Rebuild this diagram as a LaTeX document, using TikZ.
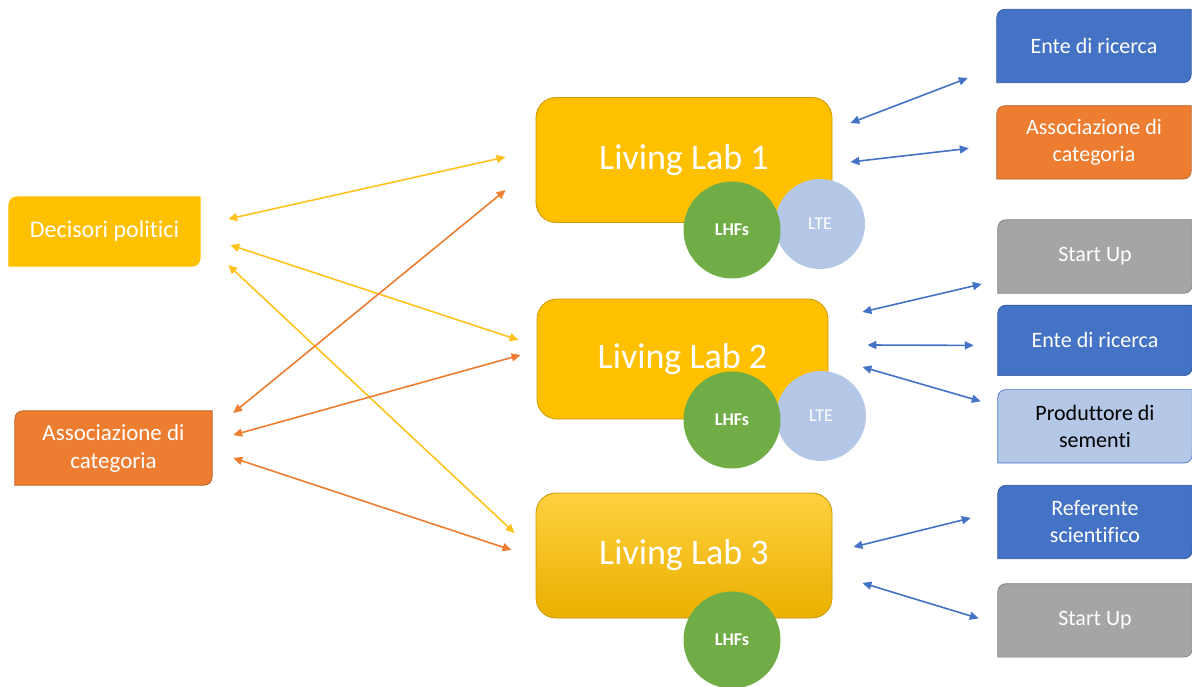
\documentclass[tikz,border=0pt]{standalone}
\usepackage{fontspec}
\setmainfont{Carlito}[Ligatures=NoCommon]
\usetikzlibrary{arrows.meta,positioning,backgrounds}
\definecolor{gold}{HTML}{FFC000}
\definecolor{goldline}{HTML}{C99A06}
\definecolor{goldarr}{HTML}{FFC21F}
\definecolor{orng}{HTML}{ED7D31}
\definecolor{orngline}{HTML}{B85F22}
\definecolor{blu}{HTML}{4472C4}
\definecolor{bluline}{HTML}{2F5597}
\definecolor{lblu}{HTML}{B4C7E7}
\definecolor{gry}{HTML}{A5A5A5}
\definecolor{gryline}{HTML}{7F7F7F}
\definecolor{grn}{HTML}{70AD47}

\begin{document}
\begin{tikzpicture}[x=1pt,y=-1pt,
  every node/.style={font=\fontsize{22}{27}\selectfont,text=white,align=center,inner sep=0pt},
  lab/.style={draw=goldline,line width=0.8pt,fill=gold,rounded corners=20pt,minimum width=296pt,minimum height=125pt,font=\fontsize{36}{40}\selectfont},
  side/.style={minimum width=194pt,minimum height=73pt},
  hub/.style={circle,fill=grn,minimum size=97pt,font=\fontsize{18}{20}\selectfont\bfseries},
  lte/.style={circle,fill=lblu,minimum size=90pt,font=\fontsize{18}{20}\selectfont},
  arr/.style={{Triangle[length=9pt,width=8pt]}-{Triangle[length=9pt,width=8pt]},line width=1.6pt}]
\useasboundingbox (0,0) rectangle (1192,687);

% living labs
\node[lab] (ll1) at (684,160) {Living Lab 1};
\node[lab,minimum width=291pt,minimum height=120pt] (ll2) at (682.5,359) {Living Lab 2};
\node[lab,top color=gold!75!white,bottom color=gold!92!black] (ll3) at (684,555.5) {Living Lab 3};

\node[lte] (lte1) at (820,224) {LTE};
\node[hub] (lhf1) at (732,230) {LHFs};
\node[lte] (lte2) at (821,416) {LTE};
\node[hub] (lhf2) at (732,420) {LHFs};
\node[hub] (lhf3) at (732,640) {LHFs};

% partners
\node[minimum width=191pt,minimum height=69pt,font=\fontsize{24}{29}\selectfont] (dp) at (104.5,231.5) {Decisori politici};
\node[minimum width=197pt,minimum height=74pt,font=\fontsize{23}{28}\selectfont] (ac2) at (113.5,448) {Associazione di\\categoria};

\node[side] (er1) at (1094,46) {Ente di ricerca};
\node[side,below=23pt of er1] (ac1) {Associazione di\\categoria};
\node[side] (su1) at (1095,256.5) {Start Up};
\node[side,minimum height=70pt,below=12pt of su1] (er2) {Ente di ricerca};
\node[side,text=black,below=14pt of er2] (ps) {Produttore di\\sementi};
\node[side] (rs) at (1095,522) {Referente\\scientifico};
\node[side,below=25pt of rs] (su2) {Start Up};

\begin{scope}[on background layer]
\foreach \n/\c/\d in {dp/gold/gold,ac2/orng/orngline,er1/blu/bluline,ac1/orng/orngline,su1/gry/gryline,er2/blu/bluline,ps/lblu/blu,rs/blu/bluline,su2/gry/gryline}
  \filldraw[fill=\c,draw=\d,line width=0.7pt] (\n.south west) -- ([yshift=-8pt]\n.north west)
    arc[start angle=180,end angle=90,radius=8pt] -- (\n.north east)
    -- ([yshift=8pt]\n.south east) arc[start angle=0,end angle=-90,radius=8pt] -- cycle;
\end{scope}

% connectors
\draw[arr,blu] ([shift={(18,-37)}]ll1.east) -- ([shift={(-29,32)}]er1.west);
\draw[arr,blu] ([shift={(18,2)}]ll1.east) -- ([shift={(-28,6)}]ac1.west);
\draw[arr,blu] ([shift={(34,-47)}]ll2.east) -- ([shift={(-16,27.5)}]su1.west);
\draw[arr,blu] ([shift={(39,-14)}]ll2.east) -- ([shift={(-24,5)}]er2.west);
\draw[arr,blu] ([shift={(34,8)}]ll2.east) -- ([shift={(-17,-25)}]ps.west);
\draw[arr,blu] ([shift={(21,-8.5)}]ll3.east) -- ([shift={(-27,-4)}]rs.west);
\draw[arr,blu] ([shift={(30,27.5)}]ll3.east) -- ([shift={(-19,-2)}]su2.west);

\draw[arr,goldarr] ([shift={(28,-12.5)}]dp.east) -- ([shift={(-30,-3)}]ll1.west);
\draw[arr,goldarr] ([shift={(30,13.5)}]dp.east) -- ([shift={(-18,-19)}]ll2.west);
\draw[arr,goldarr] ([shift={(28,33.5)}]dp.east) -- ([shift={(-21,-22.5)}]ll3.west);

\draw[arr,orng] ([shift={(21,-35)}]ac2.east) -- ([shift={(-30,30)}]ll1.west);
\draw[arr,orng] ([shift={(21,-13)}]ac2.east) -- ([shift={(-16,-4)}]ll2.west);
\draw[arr,orng] ([shift={(21,10)}]ac2.east) -- ([shift={(-24,-5.5)}]ll3.west);
\end{tikzpicture}
\end{document}
